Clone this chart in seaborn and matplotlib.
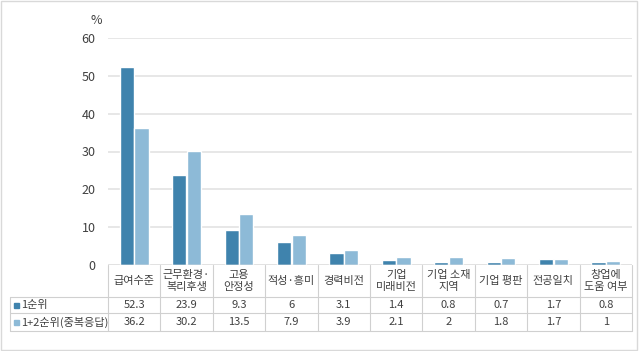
import matplotlib
matplotlib.use("Agg")
import matplotlib.pyplot as plt
import matplotlib.transforms as mtransforms
from matplotlib.patches import Rectangle
import seaborn as sns
import pandas as pd

categories = ["급여수준", "근무환경·\n복리후생", "고용\n안정성", "적성·흥미", "경력비전",
              "기업\n미래비전", "기업 소재\n지역", "기업 평판", "전공일치", "창업에\n도움 여부"]
first_rank = [52.3, 23.9, 9.3, 6, 3.1, 1.4, 0.8, 0.7, 1.7, 0.8]
first_second = [36.2, 30.2, 13.5, 7.9, 3.9, 2.1, 2, 1.8, 1.7, 1]
series_names = ["1순위", "1+2순위(중복응답)"]
first_labels = ["52.3", "23.9", "9.3", "6", "3.1", "1.4", "0.8", "0.7", "1.7", "0.8"]
second_labels = ["36.2", "30.2", "13.5", "7.9", "3.9", "2.1", "2", "1.8", "1.7", "1"]
yticks = [0, 10, 20, 30, 40, 50, 60]

sns.set_theme(style="white")
plt.rcParams['font.family'] = ['Noto Sans CJK KR', 'DejaVu Sans']

colors = ["#3F83AD", "#8DBAD7"]
text_color = "#404040"
grid_color = "#E3E3E3"
line_color = "#D0D0D0"

df = pd.DataFrame({
    "cat": categories * 2,
    "val": first_rank + first_second,
    "series": [series_names[0]] * len(categories) + [series_names[1]] * len(categories),
})

fig = plt.figure(figsize=(6.4, 3.51), dpi=100)
fig.patch.set_facecolor("white")
ax = fig.add_axes([108/640, 1-265/351, 524/640, (265-38)/351])
sns.barplot(data=df, x="cat", y="val", hue="series", palette=colors, ax=ax,
            width=0.56, gap=0.04, legend=False, saturation=1)
ax.set_ylim(0, 60)
ax.set_xlim(-0.5, len(categories) - 0.5)
ax.set_yticks(yticks)
ax.set_yticklabels([str(t) for t in yticks], fontsize=9, color=text_color)
ax.tick_params(axis="y", length=0, pad=9)
ax.set_xticks([])
ax.set_xlabel("")
ax.set_ylabel("")
for s in ax.spines.values():
    s.set_visible(False)
ax.yaxis.grid(True, color=grid_color, linewidth=1.2)
ax.set_axisbelow(True)
ax.axhline(0, color=line_color, linewidth=1)
fig.text(96/640, 1 - 21/351, "%", fontsize=9, color=text_color, ha="center", va="center")

# data table
trans = mtransforms.blended_transform_factory(ax.transData, fig.transFigure)
def fy(py):
    return 1 - py/351
def fx(px):
    return px/640

n = len(categories)
y_top, y_hdr, y_r1, y_r2 = 265, 297, 313, 331
for i in range(n + 1):
    x = i - 0.5
    ax.add_line(plt.Line2D([x, x], [fy(y_top), fy(y_r2)], transform=trans,
                           color=line_color, lw=0.8, clip_on=False))
for yy in (y_hdr, y_r1, y_r2):
    fig.add_artist(plt.Line2D([fx(10), fx(632)], [fy(yy), fy(yy)], color=line_color, lw=0.8))
fig.add_artist(plt.Line2D([fx(10), fx(10)], [fy(y_hdr), fy(y_r2)], color=line_color, lw=0.8))

fs = 8
for i, c in enumerate(categories):
    ax.text(i, fy((y_top + y_hdr)/2), c, transform=trans, ha="center", va="center",
            fontsize=fs, color=text_color, linespacing=1.25)
    ax.text(i, fy((y_hdr + y_r1)/2), first_labels[i], transform=trans, ha="center", va="center",
            fontsize=fs, color=text_color)
    ax.text(i, fy((y_r1 + y_r2)/2), second_labels[i], transform=trans, ha="center", va="center",
            fontsize=fs, color=text_color)

for k, (name, ycen) in enumerate([(series_names[0], (y_hdr + y_r1)/2), (series_names[1], (y_r1 + y_r2)/2)]):
    fig.add_artist(Rectangle((fx(14), fy(ycen) - 2.5/351), 5/640, 5/351, color=colors[k]))
    fig.text(fx(21), fy(ycen), name, ha="left", va="center", fontsize=fs, color=text_color)

# outer border
fig.add_artist(Rectangle((0.002, 0.003), 0.994, 0.994, fill=False, edgecolor="#D9D9D9", lw=1))

fig.savefig("out.png", dpi=100, facecolor="white")
